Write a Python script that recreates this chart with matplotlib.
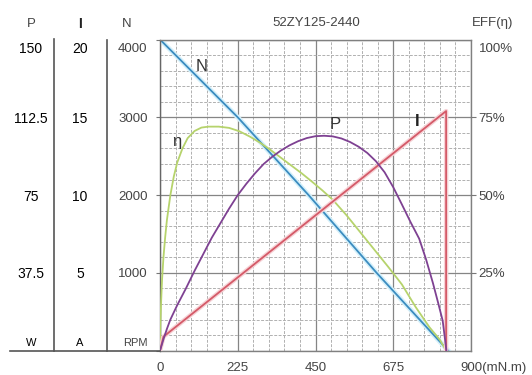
import matplotlib
matplotlib.use("Agg")
import matplotlib.pyplot as plt
import matplotlib.patheffects as pe
import matplotlib.transforms as mtrans
from matplotlib.ticker import MultipleLocator
from matplotlib.lines import Line2D

plt.rcParams['font.family'] = ['Liberation Sans', 'DejaVu Sans']

# torque axis (mN.m)
x_ticks = [0, 225, 450, 675, 900]
x_labels = ['0', '225', '450', '675', '900(mN.m)']

# left columns
n_ticks = [0, 1000, 2000, 3000, 4000]
n_labels = ['RPM', '1000', '2000', '3000', '4000']
i_ticks = [0, 5, 10, 15, 20]
i_labels = ['A', '5', '10', '15', '20']
p_ticks = [0, 37.5, 75, 112.5, 150]
p_labels = ['W', '37.5', '75', '112.5', '150']

# right column
eff_ticks = [25, 50, 75, 100]
eff_labels = ['25%', '50%', '75%', '100%']

# speed N (RPM) vs torque
n_torque = [0, 225, 430, 627, 834]
n_speed = [4000, 3000, 2000, 1000, 0]

# current I (A) vs torque
i_torque = [0, 10, 828, 828]
i_current = [0, 0.9, 15.4, 0]

# output power P (W) vs torque
p_torque = [0, 10, 20, 30, 50, 75, 100, 125, 150, 175, 200, 225, 250, 275, 300, 325, 350, 375,
            400, 425, 450, 475, 500, 525, 550, 575, 600, 625, 650, 675, 700, 725, 750, 770,
            790, 805, 818, 829]
p_power = [0, 5.5, 10.5, 15, 22, 30, 38.5, 46.5, 54.5, 61.5, 68.5, 75, 80.5, 85.5, 90, 93.5,
           96.5, 99, 101, 102.5, 103.4, 103.6, 103.3, 102.3, 100.6, 98.3, 95.3, 91.3, 86,
           78.8, 70.5, 62, 54, 44, 32.5, 23, 14.5, 0]

# efficiency (%) vs torque
e_torque = [0, 1, 3, 6, 10, 15, 20, 30, 40, 50, 65, 80, 100, 120, 140, 170, 200, 230, 260,
            290, 320, 350, 380, 410, 440, 470, 500, 540, 580, 620, 660, 700, 740, 780, 810, 828]
e_eff = [0, 8, 15, 23, 30, 36.5, 42, 50, 56, 60.5, 65, 68.3, 70.6, 71.7, 72, 72, 71.6, 70.5,
         68.8, 66.8, 64.5, 62, 59.5, 57, 54.3, 51.5, 48.5, 43.5, 38, 32.5, 27, 21.3, 14, 7.5,
         3.5, 0]

W, H = 532, 375
fig = plt.figure(figsize=(W / 100, H / 100), dpi=100)
left, right, top, bot = 160, 471, 39.5, 350.7
ax = fig.add_axes([left / W, 1 - bot / H, (right - left) / W, (bot - top) / H])

txt = '#444444'
down = mtrans.ScaledTranslation(0, -0.08, fig.dpi_scale_trans)
up = mtrans.ScaledTranslation(0, 0.085, fig.dpi_scale_trans)


def nudge_ends(axis_obj, bottom_too=True):
    labels = axis_obj.get_majorticklabels()
    labels[-1].set_transform(labels[-1].get_transform() + down)
    if bottom_too:
        labels[0].set_transform(labels[0].get_transform() + up)
        labels[0].set_fontsize(8)


ax.set_xlim(0, 900)
ax.set_ylim(0, 4000)
ax.set_xticks(x_ticks)
ax.set_xticklabels(x_labels, fontsize=9.5, color=txt)
ax.xaxis.set_minor_locator(MultipleLocator(45))
ax.yaxis.set_minor_locator(MultipleLocator(200))
ax.grid(which='major', color='#858585', lw=0.9)
ax.grid(which='minor', color='#b0b0b0', lw=0.7, ls=(0, (3, 1.5)))
ax.set_axisbelow(True)
ax.tick_params(which='minor', length=0)
ax.tick_params(axis='x', length=0, pad=8)
ax.set_yticks(n_ticks)
ax.set_yticklabels(n_labels, fontsize=9.5, color=txt)
ax.tick_params(axis='y', length=3, color='#777777', pad=6)
nudge_ends(ax.yaxis)
ax.yaxis.get_major_ticks()[0].tick1line.set_visible(False)
ax.yaxis.get_major_ticks()[-1].tick1line.set_visible(False)
for s in ax.spines.values():
    s.set_color('#808080')
    s.set_linewidth(1.0)
ax.spines['left'].set_color('#666666')

# shift "900(mN.m)" so the number sits under its tick
lbl = ax.get_xticklabels()[-1]
lbl.set_ha('left')
lbl.set_transform(lbl.get_transform() + mtrans.ScaledTranslation(-0.11, 0, fig.dpi_scale_trans))

ax.plot(n_torque, n_speed, color='#3b8cc0', lw=1.3,
        path_effects=[pe.Stroke(linewidth=3.5, foreground='#d4f0fa'), pe.Normal()])

# efficiency axis on the right
ax_e = ax.twinx()
ax_e.set_ylim(0, 100)
ax_e.set_yticks(eff_ticks)
ax_e.set_yticklabels(eff_labels, fontsize=9.5, color=txt)
ax_e.tick_params(axis='y', length=3.6, color='#777777', pad=2)
nudge_ends(ax_e.yaxis, bottom_too=False)
ax_e.yaxis.get_major_ticks()[-1].tick2line.set_visible(False)
for s in ax_e.spines.values():
    s.set_visible(False)
ax_e.plot(e_torque, e_eff, color='#b6d36c', lw=1.3)

# current column
ax_i = ax.twinx()
ax_i.yaxis.tick_left()
ax_i.set_ylim(0, 20)
ax_i.set_yticks(i_ticks)
ax_i.set_yticklabels(i_labels, fontsize=9.5, color=txt)
ax_i.tick_params(axis='y', length=0, pad=19.4)
for s in ax_i.spines.values():
    s.set_visible(False)
ax_i.spines['left'].set_visible(True)
ax_i.spines['left'].set_position(('outward', 38.2))
ax_i.spines['left'].set_color('#555555')
ax_i.spines['left'].set_linewidth(1.2)
for t in ax_i.get_yticklabels():
    t.set_ha('center')
nudge_ends(ax_i.yaxis)
ax_i.plot(i_torque, i_current, color='#d45a68', lw=1.3,
          path_effects=[pe.Stroke(linewidth=3.2, foreground='#f6d2d6'), pe.Normal()])

# power column
ax_p = ax.twinx()
ax_p.yaxis.tick_left()
ax_p.set_ylim(0, 150)
ax_p.set_yticks(p_ticks)
ax_p.set_yticklabels(p_labels, fontsize=9.5, color=txt)
ax_p.tick_params(axis='y', length=0, pad=16.6)
for s in ax_p.spines.values():
    s.set_visible(False)
ax_p.spines['left'].set_visible(True)
ax_p.spines['left'].set_position(('outward', 76.3))
ax_p.spines['left'].set_color('#555555')
ax_p.spines['left'].set_linewidth(1.2)
for t in ax_p.get_yticklabels():
    t.set_ha('center')
nudge_ends(ax_p.yaxis)
ax_p.plot(p_torque, p_power, color='#7e4192', lw=1.3)

# curve names
ax.text(121, 3656, 'N', fontsize=12, color='#333333', ha='center', va='center')
ax.text(48, 2691, 'η', fontsize=12, color='#333333', ha='center', va='center')
ax.text(506, 2906, 'P', fontsize=12, color='#333333', ha='center', va='center')
ax.text(743, 2948, 'I', fontsize=12, color='#222222', ha='center', va='center', fontweight='bold')

# column headers and titles
fig.text(31 / W, 1 - 24 / H, 'P', fontsize=9.5, color=txt, ha='center', va='center')
fig.text(80 / W, 1 - 24 / H, 'I', fontsize=10, color='#222222', ha='center', va='center', fontweight='bold')
fig.text(127 / W, 1 - 24 / H, 'N', fontsize=9.5, color=txt, ha='center', va='center')
fig.text(316 / W, 1 - 23 / H, '52ZY125-2440', fontsize=9.5, color=txt, ha='center', va='center')
fig.text(493 / W, 1 - 23 / H, 'EFF(η)', fontsize=9.5, color=txt, ha='center', va='center')

fig.add_artist(Line2D([10 / W, left / W], [1 - bot / H, 1 - bot / H], transform=fig.transFigure,
                      color='#555555', lw=1.2))

fig.savefig('out.png', dpi=100)
